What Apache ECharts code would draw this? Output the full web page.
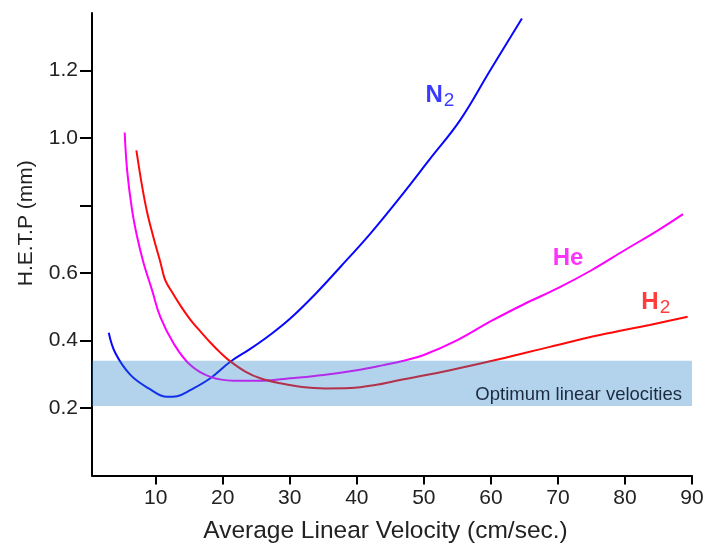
<!DOCTYPE html>
<html>
<head>
<meta charset="utf-8">
<script src="https://cdn.jsdelivr.net/npm/echarts@6/dist/echarts.min.js"></script>
<style>html,body{margin:0;padding:0;background:#fff}#c{width:707px;height:543px}</style>
</head>
<body>
<div id="c"></div>
<script>
// ---- data (velocity cm/s, HETP mm) ----
const n2X = [3.0, 4.0, 6.23, 8.96, 11.7, 13.19, 15.17, 18.15, 21.13, 24.11, 27.09, 30.07, 33.79, 37.51, 41.99, 46.45, 50.92, 55.39, 59.86, 64.63];
const n2Y = [0.423, 0.362, 0.298, 0.258, 0.233, 0.235, 0.253, 0.288, 0.337, 0.375, 0.417, 0.465, 0.537, 0.617, 0.716, 0.824, 0.938, 1.052, 1.199, 1.354];

const heX = [5.38, 5.74, 6.48, 7.23, 8.21, 9.46, 10.70, 12.68, 15.17, 18.15, 21.62, 26.09, 30.07, 35.03, 40.0, 43.97, 47.0, 50.0, 55.0, 60.0, 65.0, 70.0, 75.0, 80.0, 85.0, 88.66];
const heY = [1.016, 0.904, 0.786, 0.707, 0.628, 0.549, 0.469, 0.391, 0.327, 0.292, 0.281, 0.281, 0.288, 0.298, 0.312, 0.327, 0.340, 0.357, 0.401, 0.457, 0.508, 0.555, 0.608, 0.668, 0.727, 0.774];

const h2X = [7.12, 7.97, 8.72, 9.70, 10.70, 11.44, 12.48, 13.67, 15.16, 16.66, 18.15, 19.64, 21.13, 23.37, 25.60, 28.58, 31.56, 35.28, 39.01, 42.73, 46.45, 53.9, 61.35, 68.79, 76.24, 83.69, 89.35];
const h2Y = [0.963, 0.857, 0.780, 0.703, 0.632, 0.578, 0.542, 0.504, 0.462, 0.427, 0.394, 0.364, 0.338, 0.308, 0.288, 0.273, 0.263, 0.258, 0.259, 0.268, 0.283, 0.312, 0.345, 0.381, 0.416, 0.446, 0.470];

const bandRange = [0.206, 0.340];          // optimum HETP band
const bandLabel = 'Optimum linear velocities';
const xTicks = [10, 20, 30, 40, 50, 60, 70, 80, 90];
const yTicks = [0.2, 0.4, 0.6, 0.8, 1.0, 1.2];
const yLabels = [0.2, 0.4, 0.6, 1.0, 1.2];
const xTitle = 'Average Linear Velocity (cm/sec.)';
const yTitle = 'H.E.T.P (mm)';

// gas label anchors (data coords)
const gasNames = ['N2', 'He', 'H2'];
const gasAnchors = [[52.4, 1.126], [71.5, 0.644], [84.6, 0.514]];

const zip = (xs, ys) => xs.map((x, i) => [x, ys[i]]);
const FONT = '"Liberation Sans", Arial, sans-serif';

const colors = { N2: '#0808ff', He: '#ff00ff', H2: '#ff0a0a' };

function gasRich(name) {
  const c = colors[name];
  return {
    b: { fontFamily: FONT, fontWeight: 'bold', fontSize: 24, color: c, verticalAlign: 'bottom' },
    s: { fontFamily: FONT, fontSize: 19, color: c, verticalAlign: 'bottom', padding: [0, 0, -3, 1] }
  };
}
function gasText(name) {
  return name.endsWith('2') ? '{b|' + name.slice(0, -1) + '}{s|2}' : '{b|' + name + '}';
}

const chart = echarts.init(document.getElementById('c'), null, { renderer: 'canvas' });
chart.setOption({
  animation: false,
  grid: { left: 92, right: 15, top: 13, bottom: 67.5, outerBoundsMode: 'none', containLabel: false },
  xAxis: {
    type: 'value', min: 0.5, max: 90,
    name: xTitle, nameLocation: 'middle', nameGap: 43,
    nameTextStyle: { fontFamily: FONT, fontSize: 24.5, color: '#222', padding: [0, 13, 0, 0] },
    axisLine: { show: true, onZero: false, lineStyle: { color: '#000', width: 2 } },
    axisTick: { show: true, length: 9, customValues: xTicks, lineStyle: { color: '#000', width: 2 } },
    axisLabel: { customValues: xTicks, fontFamily: FONT, fontSize: 21, color: '#222', margin: 12 },
    splitLine: { show: false }
  },
  yAxis: {
    type: 'value', min: 0, max: 1.37,
    name: yTitle, nameLocation: 'middle', nameGap: 55, nameRotate: 90,
    nameTextStyle: { fontFamily: FONT, fontSize: 21, color: '#222', padding: [0, 0, 0, 42] },
    axisLine: { show: true, onZero: false, lineStyle: { color: '#000', width: 2 } },
    axisTick: { show: true, length: 12, customValues: yTicks, lineStyle: { color: '#000', width: 2 } },
    axisLabel: { customValues: yLabels, fontFamily: FONT, fontSize: 21, color: '#222', margin: 14,
      formatter: v => v.toFixed(1) },
    splitLine: { show: false }
  },
  series: [
    { name: 'N2', type: 'line', data: zip(n2X, n2Y), smooth: 0.4, showSymbol: false, z: 2,
      lineStyle: { color: colors.N2, width: 2 } },
    { name: 'He', type: 'line', data: zip(heX, heY), smooth: 0.4, showSymbol: false, z: 2,
      lineStyle: { color: colors.He, width: 2 } },
    { name: 'H2', type: 'line', data: zip(h2X, h2Y), smooth: 0.35, showSymbol: false, z: 2,
      lineStyle: { color: colors.H2, width: 2 } },
    { name: 'band', type: 'line', data: [], z: 10, silent: true,
      markArea: {
        z: 10,
        silent: true,
        itemStyle: { color: 'rgba(37,126,197,0.35)' },
        label: { show: true, position: 'insideRight', distance: 10, offset: [0, 12],
          fontFamily: FONT, fontSize: 18.5, color: '#1b2b40' },
        data: [[{ xAxis: 0.5, yAxis: bandRange[0], name: bandLabel }, { xAxis: 90, yAxis: bandRange[1] }]]
      } },
    ...gasNames.map((g, i) => ({
      name: g + ' label', type: 'scatter', symbolSize: 0, z: 12, silent: true,
      data: [gasAnchors[i]],
      label: { show: true, position: 'inside', formatter: gasText(g), rich: gasRich(g) }
    }))
  ]
});
</script>
</body>
</html>
